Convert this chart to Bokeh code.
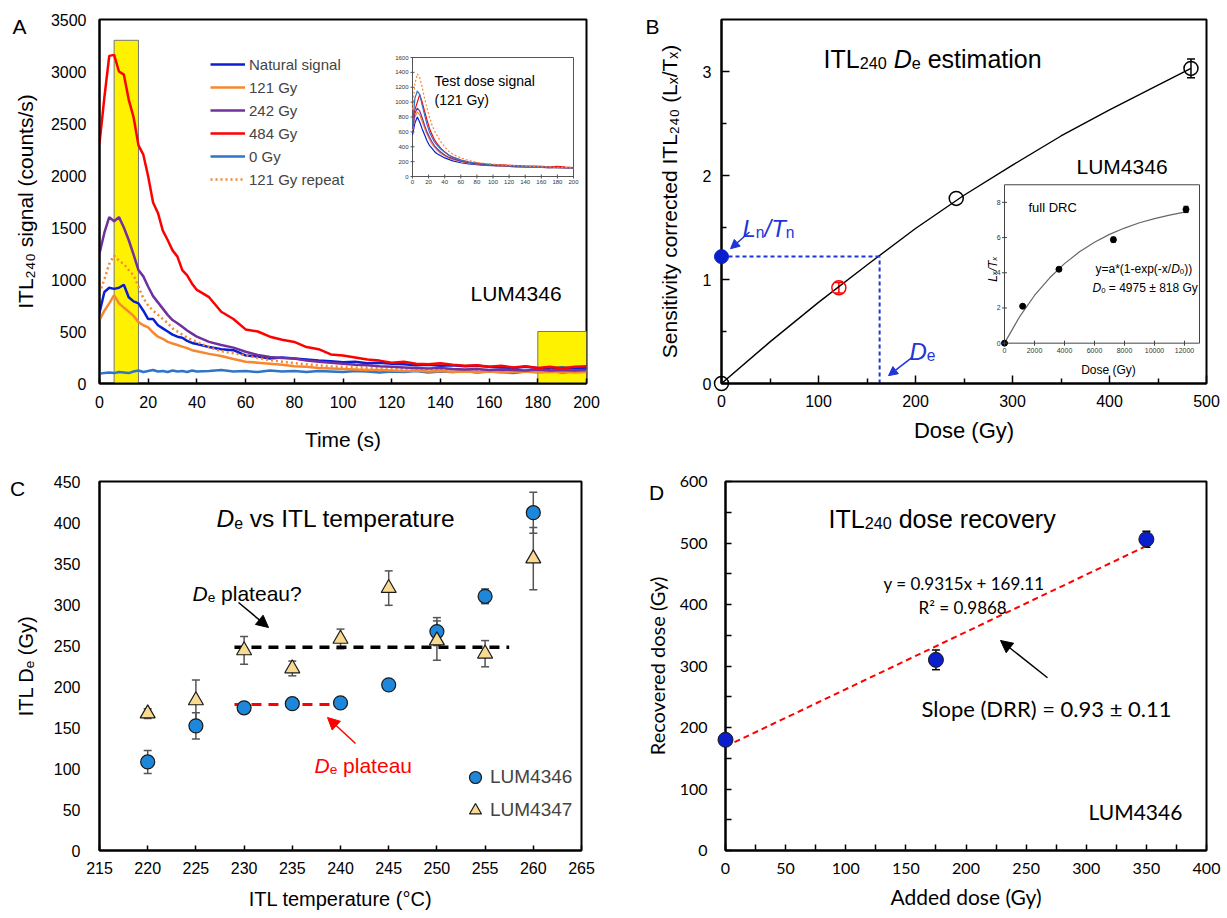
import math
from bokeh.plotting import figure
from bokeh.models import (Range1d, Label, Arrow, NormalHead, Whisker, TeeHead, ColumnDataSource,
                          Legend, LegendItem, FixedTicker)
from bokeh.layouts import column, row
from bokeh.embed import file_html
from bokeh.resources import INLINE
from bokeh.core.properties import value

ARIAL = "Liberation Sans"
CAL = "Lato"

# ---------------- Panel A data ----------------
tA = [0, 2, 4, 6, 8, 10, 12, 14, 16, 18, 20, 22, 24, 26, 28, 30, 32, 34, 36, 38, 40,
      45, 50, 55, 60, 65, 70, 75, 80, 85, 90, 95, 100, 105, 110, 115, 120, 125, 130, 135,
      140, 145, 150, 155, 160, 165, 170, 175, 180, 185, 190, 195, 200]
sig_484 = [2310, 2750, 3150, 3160, 3000, 2970, 2730, 2560, 2290, 2200, 1990, 1740, 1640, 1470, 1380,
           1280, 1220, 1090, 1040, 960, 900, 830, 690, 620, 520, 500, 450, 420, 400, 350, 330, 280,
           270, 250, 230, 220, 200, 210, 190, 185, 195, 180, 170, 175, 160, 170, 155, 165, 150, 160,
           145, 160, 165]
sig_nat = [680, 880, 920, 910, 920, 950, 830, 790, 770, 700, 620, 620, 560, 530, 500, 470, 450, 440,
           410, 390, 380, 350, 330, 320, 270, 260, 240, 250, 240, 230, 220, 215, 205, 210, 195, 200,
           190, 185, 175, 180, 170, 175, 165, 170, 160, 155, 150, 160, 150, 145, 155, 145, 150]
sig_121 = [610, 700, 770, 850, 770, 730, 690, 650, 590, 560, 540, 490, 450, 430, 400, 385, 370, 355,
           340, 320, 310, 285, 265, 235, 210, 200, 190, 180, 165, 160, 150, 145, 140, 135, 130, 130,
           125, 120, 125, 115, 120, 110, 115, 110, 115, 105, 110, 115, 105, 110, 115, 105, 110]
sig_242 = [1250, 1450, 1600, 1560, 1600, 1500, 1380, 1240, 1090, 1030, 930, 840, 780, 720, 660, 610,
           580, 545, 510, 480, 450, 400, 370, 345, 305, 275, 255, 245, 240, 220, 210, 200, 190, 180,
           175, 165, 160, 155, 150, 145, 150, 140, 135, 140, 130, 135, 130, 125, 135, 125, 130, 125, 130]
sig_121r = [870, 1000, 1150, 1230, 1180, 1150, 1090, 1040, 930, 820, 750, 700, 660, 620, 580, 530,
            500, 470, 440, 420, 400, 350, 310, 290, 270, 245, 225, 210, 195, 185, 175, 165, 160, 155,
            150, 145, 145, 140, 135, 140, 130, 135, 130, 125, 130, 125, 130, 125, 120, 130, 125, 120, 125]
sig_0 = [95, 100, 105, 100, 110, 105, 100, 115, 125, 110, 120, 130, 115, 120, 110, 125, 115, 120, 110,
         125, 115, 120, 130, 115, 120, 110, 125, 115, 120, 110, 120, 115, 110, 120, 115, 105, 115, 110,
         120, 105, 115, 110, 120, 105, 115, 110, 100, 115, 110, 120, 105, 115, 120]
win_left = [6, 180]
win_right = [16, 200]
win_top = [3300, 500]

# inset: test dose signals
tI = [0, 3, 6, 9, 12, 15, 18, 21, 24, 27, 30, 35, 40, 45, 50, 60, 70, 80, 90, 100, 110, 120, 130,
      140, 150, 160, 170, 180, 190, 200]
td_121r = [900, 1250, 1380, 1330, 1200, 1050, 920, 800, 700, 620, 560, 470, 400, 340, 300, 250, 215,
           190, 175, 165, 155, 150, 145, 140, 135, 130, 130, 125, 120, 115]
td_0 = [700, 1050, 1150, 1100, 960, 830, 700, 600, 530, 470, 430, 370, 330, 290, 260, 220, 195, 180,
        165, 155, 150, 145, 140, 135, 130, 130, 125, 120, 120, 115]
td_484 = [780, 900, 1000, 1100, 1000, 880, 760, 650, 570, 500, 450, 380, 330, 290, 260, 220, 195, 180,
          170, 160, 155, 150, 145, 140, 140, 135, 130, 135, 125, 120]
td_242 = [640, 850, 920, 880, 790, 690, 600, 530, 470, 420, 380, 330, 290, 260, 240, 205, 185, 170,
          160, 150, 145, 140, 135, 130, 130, 125, 120, 125, 120, 115]
td_121 = [620, 800, 870, 830, 740, 650, 570, 500, 440, 400, 360, 310, 280, 250, 230, 200, 180, 165,
          155, 148, 140, 135, 130, 128, 125, 122, 120, 118, 115, 112]
td_nat = [560, 720, 800, 730, 640, 560, 480, 420, 380, 340, 310, 280, 250, 230, 210, 185, 170, 160,
          150, 145, 140, 135, 130, 128, 125, 122, 120, 118, 115, 112]
insetA_xticks = [0, 20, 40, 60, 80, 100, 120, 140, 160, 180, 200]
insetA_yticks = [0, 200, 400, 600, 800, 1000, 1200, 1400, 1600]

# ---------------- Panel B data ----------------
b_dose = [0, 121, 242, 484]
b_ratio = [0.0, 0.92, 1.78, 3.03]
b_err = [0.04, 0.05, 0.03, 0.09]
b_colors = ["black", "red", "black", "black"]
fit_dose = [0, 50, 100, 150, 200, 250, 300, 350, 400, 450, 484]
fit_ratio = [0.0, 0.40, 0.78, 1.14, 1.49, 1.81, 2.10, 2.38, 2.63, 2.87, 3.03]
ln_tn = 1.22
de_val = 163
drc_dose = [0, 1210, 3630, 7260, 12100]
drc_ratio = [0.0, 2.1, 4.2, 5.88, 7.6]
drc_err = [0.0, 0.05, 0.08, 0.14, 0.18]
drc_fit_dose = [0, 1000, 2000, 3000, 4000, 5000, 6000, 7000, 8000, 9000, 10000, 11000, 12000]
drc_fit_ratio = [0.0, 1.49, 2.71, 3.70, 4.52, 5.19, 5.73, 6.18, 6.54, 6.84, 7.08, 7.28, 7.45]
insetB_xticks = [0, 2000, 4000, 6000, 8000, 10000, 12000]
insetB_yticks = [0, 2, 4, 6, 8]

# ---------------- Panel C data ----------------
temps = [220, 225, 230, 235, 240, 245, 250, 255, 260]
de_4346 = [108, 152, 174, 179, 180, 202, 267, 310, 412]
err_4346 = [14, 16, 4, 4, 5, 4, 17, 9, 25]
de_4347 = [167, 183, 244, 222, 258, 320, 256, 240, 356]
err_4347 = [6, 25, 17, 9, 12, 21, 24, 16, 38]
plateau_q_x = [229, 257.5]
plateau_q_y = [248, 248]
plateau_x = [229, 241]
plateau_y = [178, 178]

# ---------------- Panel D data ----------------
added = [0, 175, 350]
recovered = [180, 310, 506]
rec_err = [6, 16, 13]
fitD_x = [0, 350]
fitD_y = [169.11, 495.14]

# ---------------- helpers ----------------
AW = {' ': 0.278, '(': 0.333, ')': 0.333, '*': 0.389, '+': 0.584, '-': 0.333, '.': 0.278, '/': 0.278,
      '=': 0.584, '?': 0.556, '±': 0.584, '°': 0.4, 'A': 0.667, 'C': 0.722, 'D': 0.722, 'G': 0.778,
      'I': 0.278, 'L': 0.556, 'M': 0.833, 'R': 0.722, 'S': 0.667, 'T': 0.611, 'U': 0.722,
      'a': 0.556, 'c': 0.5, 'd': 0.556, 'e': 0.556, 'f': 0.278, 'g': 0.556, 'i': 0.222, 'l': 0.222,
      'm': 0.833, 'n': 0.556, 'o': 0.556, 'p': 0.556, 'r': 0.333, 's': 0.5, 't': 0.278, 'u': 0.556,
      'v': 0.5, 'x': 0.5, 'y': 0.5}


def tw(s, size):
    return sum(AW.get(c, 0.556) for c in s) * size


class Pan:
    def __init__(self, fig, xr, yr, frame):
        self.f = fig
        self.xr, self.yr = xr, yr
        self.L, self.R, self.T, self.B = frame

    def dx(self, px):
        return self.xr[0] + (px - self.L) / (self.R - self.L) * (self.xr[1] - self.xr[0])

    def dy(self, py):
        return self.yr[0] + (self.B - py) / (self.B - self.T) * (self.yr[1] - self.yr[0])


def mkfig(w, h, xr, yr, frame, canvas):
    L, R, T, B = frame
    cx, cy = canvas
    p = figure(width=w, height=h, x_range=Range1d(*xr), y_range=Range1d(*yr),
               output_backend="svg", toolbar_location=None, title=None,
               min_border_left=L - cx, min_border_right=cx + w - R,
               min_border_top=T - cy, min_border_bottom=cy + h - B)
    p.xgrid.visible = False
    p.ygrid.visible = False
    p.outline_line_color = "black"
    p.outline_line_width = 2
    p.background_fill_color = "white"
    p.border_fill_color = "white"
    return p, Pan(p, xr, yr, frame)


def axes(p, font, size, xt, xminor, yt, yminor, xstand, ystand, xin, yin, xmin_in=0, ymin_in=0):
    p.xaxis.ticker = FixedTicker(ticks=xt, minor_ticks=xminor)
    p.yaxis.ticker = FixedTicker(ticks=yt, minor_ticks=yminor)
    for ax, st, tin, mtin in ((p.xaxis[0], xstand, xin, xmin_in), (p.yaxis[0], ystand, yin, ymin_in)):
        ax.axis_line_color = "black"
        ax.axis_line_width = 2
        ax.major_label_text_font = font
        ax.major_label_text_font_size = size
        ax.major_label_text_color = "black"
        ax.major_label_standoff = st
        ax.major_tick_out = 0
        ax.major_tick_in = tin
        ax.major_tick_line_color = "black" if tin else None
        ax.major_tick_line_width = 1.5
        ax.minor_tick_out = 0
        ax.minor_tick_in = mtin
        ax.minor_tick_line_color = "black" if mtin else None
        ax.minor_tick_line_width = 1.5


def titles(p, xlabel, xsize, xstand, ylabel, ysize, ystand, font=ARIAL):
    for ax, t, s, st in ((p.xaxis[0], xlabel, xsize, xstand), (p.yaxis[0], ylabel, ysize, ystand)):
        ax.axis_label = t
        ax.axis_label_text_font = font
        ax.axis_label_text_font_size = f"{s}px"
        ax.axis_label_text_font_style = "normal"
        ax.axis_label_text_color = "black"
        ax.axis_label_standoff = st


def label(P, px, py, text, size, font=ARIAL, color="black", style="normal", align="left", angle=0.0,
          place=None):
    lab = Label(x=P.dx(px), y=P.dy(py), text=text, text_font=font,
                text_font_size=f"{size}px", text_font_style=style, text_color=color,
                text_align=align, text_baseline="alphabetic", angle=angle)
    if place:
        P.f.add_layout(lab, place)
    else:
        P.f.add_layout(lab)


SUB, SHIFT = 0.65, 0.18


def rich(P, px, py, pieces, size, color="black", font=ARIAL, align="left", vertical=False):
    ws = []
    for t, st in pieces:
        sz = size * SUB if "s" in st else size
        ws.append(tw(t, sz))
    total = sum(ws)
    pos = -total / 2 if align == "center" else 0.0
    for (t, st), w in zip(pieces, ws):
        sz = size * SUB if "s" in st else size
        sh = SHIFT * size if "s" in st else 0.0
        fs = "italic" if "i" in st else "normal"
        lead = len(t) - len(t.lstrip(" "))
        core = t.strip(" ")
        start = pos + tw(" " * lead, sz)
        if vertical:
            label(P, px + sh, py - start, core, round(sz, 1), font, color, fs, "left", math.pi / 2)
        else:
            label(P, px + start, py + sh, core, round(sz, 1), font, color, fs, "left", 0.0)
        pos += w


def arrow(P, x0, y0, x1, y1, color, width=1.5, head=9):
    P.f.add_layout(Arrow(end=NormalHead(size=head, fill_color=color, line_color=color),
                         x_start=P.dx(x0), y_start=P.dy(y0), x_end=P.dx(x1), y_end=P.dy(y1),
                         line_color=color, line_width=width))


def whisk(p, xs, ys, es, color, head=8):
    src = ColumnDataSource(dict(x=xs, upper=[y + e for y, e in zip(ys, es)],
                                lower=[y - e for y, e in zip(ys, es)]))
    p.add_layout(Whisker(source=src, base="x", upper="upper", lower="lower", line_color=color,
                         line_width=1.5, level="underlay",
                         upper_head=TeeHead(size=head, line_color=color, line_width=1.5),
                         lower_head=TeeHead(size=head, line_color=color, line_width=1.5)))


C_NAT, C_121, C_242, C_484, C_0 = "#0B1FCF", "#F7882F", "#7030A0", "#FF0000", "#2E75C8"
BLUE_TXT = "#1F35D6"

# ======================= Panel A =======================
pA, A = mkfig(614, 460, (0, 200), (0, 3500), (99, 586, 19, 383), (0, 0))
axes(pA, ARIAL, "16px", list(range(0, 201, 20)), [], list(range(0, 3501, 500)), [], 12, 13, 5, 0)
titles(pA, "Time (s)", 21, 17, "ITL₂₄₀ signal (counts/s)", 21, 11)
pA.quad(left=win_left, right=win_right, bottom=[0, 0], top=win_top, fill_color="#FFF200",
        line_color="#777777", line_width=1)
r0 = pA.line(tA, sig_0, line_color=C_0, line_width=2.5)
r121 = pA.line(tA, sig_121, line_color=C_121, line_width=2.5)
rnat = pA.line(tA, sig_nat, line_color=C_NAT, line_width=2.5)
r121r = pA.line(tA, sig_121r, line_color=C_121, line_width=2.5, line_dash="2 3")
r242 = pA.line(tA, sig_242, line_color=C_242, line_width=2.5)
r484 = pA.line(tA, sig_484, line_color=C_484, line_width=2.5)
legA = Legend(items=[LegendItem(label="Natural signal", renderers=[rnat]),
                     LegendItem(label="121 Gy", renderers=[r121]),
                     LegendItem(label="242 Gy", renderers=[r242]),
                     LegendItem(label="484 Gy", renderers=[r484]),
                     LegendItem(label="0 Gy", renderers=[r0]),
                     LegendItem(label="121 Gy repeat", renderers=[r121r])],
              location=(111, 194), border_line_color=None, background_fill_alpha=0, padding=0,
              margin=0, spacing=3, glyph_width=35, glyph_height=20, label_height=20,
              label_standoff=4, label_text_font=ARIAL, label_text_font_size="15px")
pA.add_layout(legA)

subA = pA.subplot(x_source=Range1d(0, 200), y_source=Range1d(0, 1600),
                  x_target=Range1d(A.dx(412), A.dx(573)), y_target=Range1d(A.dy(176), A.dy(57)))
subA.quad(left=[0], right=[200], bottom=[0], top=[1600], fill_color="white", line_color="#555555",
          line_width=1)
for ys, col, dash in ((td_nat, C_NAT, "solid"), (td_121, C_121, "solid"), (td_242, C_242, "solid"),
                      (td_484, C_484, "solid"), (td_0, C_0, "solid"), (td_121r, C_121, "2 2")):
    subA.line(tI, ys, line_color=col, line_width=1.2, line_dash=dash)
subA.scatter(x=insetA_xticks, y=[0] * len(insetA_xticks), marker="dash", angle=math.pi / 2, size=4,
             line_color="#555555")
subA.scatter(x=[0] * len(insetA_yticks), y=insetA_yticks, marker="dash", size=4, line_color="#555555")
subA.text(x=insetA_xticks, y=[-45] * len(insetA_xticks), text=[str(v) for v in insetA_xticks],
          text_font=value(ARIAL), text_font_size="6px", text_align="center", text_baseline="top",
          text_color="#333333")
subA.text(x=[-5] * len(insetA_yticks), y=insetA_yticks, text=[str(v) for v in insetA_yticks],
          text_font=value(ARIAL), text_font_size="6px", text_align="right", text_baseline="middle",
          text_color="#333333")
label(A, 434, 80, "Test dose signal", 14)
label(A, 434, 99, "(121 Gy)", 14)
label(A, 19, 26, "A", 21, align="center", place="right")
label(A, 470, 293, "LUM4346", 21)

# ======================= Panel B =======================
pB, B = mkfig(613, 460, (0, 500), (0, 3.5), (721, 1206, 18, 388), (614, 0))
axes(pB, ARIAL, "16px", [0, 100, 200, 300, 400, 500], [50, 150, 250, 350, 450],
     [0, 1, 2, 3], [0.5, 1.5, 2.5], 11, 10, 8, 8, 5, 5)
titles(pB, "Dose (Gy)", 22, 8, "Sensitivity corrected ITL₂₄₀ (Lₓ/Tₓ)", 21, 19)
pB.line(fit_dose, fit_ratio, line_color="black", line_width=1.4)
pB.line([0, de_val], [ln_tn, ln_tn], line_color=BLUE_TXT, line_width=2, line_dash="4 3")
pB.line([de_val, de_val], [0, ln_tn], line_color=BLUE_TXT, line_width=2, line_dash="4 3")
whisk(pB, [b_dose[0]], [b_ratio[0]], [b_err[0]], "black", head=0)
whisk(pB, [b_dose[1]], [b_ratio[1]], [b_err[1]], "red")
whisk(pB, [b_dose[3]], [b_ratio[3]], [b_err[3]], "black")
pB.scatter(b_dose, b_ratio, size=14, fill_alpha=0, line_color=b_colors, line_width=1.5, level="overlay")
pB.scatter([0], [ln_tn], size=14, fill_color="#0A1ECC", line_color="#0A1ECC", level="overlay")

subB = pB.subplot(x_source=Range1d(0, 13000), y_source=Range1d(0, 9),
                  x_target=Range1d(B.dx(1004), B.dx(1199)), y_target=Range1d(B.dy(347), B.dy(186)))
subB.quad(left=[0], right=[13000], bottom=[0], top=[9], fill_color="white", line_color="#444444",
          line_width=1)
subB.line(drc_fit_dose, drc_fit_ratio, line_color="#666666", line_width=1.2)
subB.segment(x0=drc_dose, y0=[r - e for r, e in zip(drc_ratio, drc_err)], x1=drc_dose,
             y1=[r + e for r, e in zip(drc_ratio, drc_err)], line_color="black", line_width=1)
subB.scatter(x=drc_dose, y=[r + e for r, e in zip(drc_ratio, drc_err)], marker="dash", size=5,
             line_color="black")
subB.scatter(x=drc_dose, y=[r - e for r, e in zip(drc_ratio, drc_err)], marker="dash", size=5,
             line_color="black")
subB.scatter(x=drc_dose, y=drc_ratio, size=6, fill_color="black", line_color="black")
subB.scatter(x=insetB_xticks, y=[0] * len(insetB_xticks), marker="dash", angle=math.pi / 2, size=5,
             line_color="#444444")
subB.scatter(x=[0] * len(insetB_yticks), y=insetB_yticks, marker="dash", size=5, line_color="#444444")
subB.text(x=insetB_xticks, y=[-0.3] * len(insetB_xticks), text=[str(v) for v in insetB_xticks],
          text_font=value(ARIAL), text_font_size="7px", text_align="center", text_baseline="top",
          text_color="#333333")
subB.text(x=[-250] * len(insetB_yticks), y=insetB_yticks, text=[str(v) for v in insetB_yticks],
          text_font=value(ARIAL), text_font_size="7px", text_align="right", text_baseline="middle",
          text_color="#333333")
label(B, 1028, 209, "full DRC", 13)
rich(B, 1095, 272, [("y=a*(1-exp(-x/", "n"), ("D", "i"), ("0", "s"), ("))", "n")], 12)
rich(B, 1092, 291, [("D", "i"), ("0", "s"), (" = 4975 ± 818 Gy", "n")], 12)
label(B, 1108, 374, "Dose (Gy)", 12, align="center")
rich(B, 992, 272, [("L", "i"), ("x", "is"), ("/", "i"), ("T", "i"), ("x", "is")], 12, align="center",
     vertical=True)

label(B, 652, 25, "B", 21, align="center", place="left")
rich(B, 823, 58, [("ITL", "n"), ("240", "s"), (" ", "n"), ("D", "i"), ("e", "s"), (" estimation", "n")], 25)
label(B, 1076, 167, "LUM4346", 21)
rich(B, 742, 230, [("L", "i"), ("n", "s"), ("/", "i"), ("T", "i"), ("n", "s")], 24, color=BLUE_TXT)
rich(B, 909, 355, [("D", "i"), ("e", "s")], 24, color=BLUE_TXT)
arrow(B, 749, 234, 730, 251, BLUE_TXT)
arrow(B, 911, 362, 888, 380, BLUE_TXT)

# ======================= Panel C =======================
pC, C = mkfig(614, 456, (215, 265), (0, 450), (99, 581, 481, 850), (0, 460))
axes(pC, ARIAL, "16px", list(range(215, 266, 5)), [], list(range(0, 451, 50)), [], 11, 19, 5, 0)
titles(pC, "ITL temperature (°C)", 20, 11, "ITL Dₑ (Gy)", 20, 14)
whisk(pC, temps, de_4347, err_4347, "#555555")
whisk(pC, temps, de_4346, err_4346, "#555555")
pC.line(plateau_q_x, plateau_q_y, line_color="black", line_width=3.5, line_dash="10 7")
pC.line(plateau_x, plateau_y, line_color="red", line_width=3, line_dash="10 7")
rc = pC.scatter(temps, de_4346, size=14, fill_color="#1C87DB", line_color="#1a1a1a", line_width=1.2)
rt = pC.scatter(temps, de_4347, size=15, marker="triangle", fill_color="#F8DA92", line_color="#1a1a1a",
                line_width=1.2)
legC = Legend(items=[LegendItem(label="LUM4346", renderers=[rc]),
                     LegendItem(label="LUM4347", renderers=[rt])],
              location=(361, 25), border_line_color=None, background_fill_alpha=0, padding=0,
              margin=0, spacing=3, glyph_width=30, glyph_height=30, label_height=30,
              label_standoff=0, label_text_font=ARIAL, label_text_font_size="19px")
pC.add_layout(legC)
label(C, 17, 488, "C", 21, align="center", place="right")
rich(C, 216, 518, [("D", "i"), ("e", "s"), (" vs ITL temperature", "n")], 24.5)
rich(C, 192, 593, [("D", "i"), ("e", "s"), (" plateau?", "n")], 21)
rich(C, 314, 765, [("D", "i"), ("e", "s"), (" plateau", "n")], 21, color="red")
arrow(C, 238, 602, 268, 627, "black", 1.5, 12)
arrow(C, 355, 743, 327, 717, "red", 1.5, 12)

# ======================= Panel D =======================
pD, D = mkfig(613, 456, (0, 400), (0, 600), (725, 1206, 475, 851), (614, 460))
axes(pD, CAL, "16px", list(range(0, 401, 50)), list(range(25, 400, 50)),
     list(range(0, 601, 100)), list(range(50, 600, 100)), 12, 18, 6, 6, 6, 6)
titles(pD, "Added dose (Gy)", 21, 7, "Recovered dose (Gy)", 20, 8, font=CAL)
pD.line(fitD_x, fitD_y, line_color="red", line_width=2, line_dash="6 4")
whisk(pD, added, recovered, rec_err, "black")
pD.scatter(added, recovered, size=15, fill_color="#0A1ECC", line_color="#1a1a1a", line_width=1,
           level="overlay")
label(D, 656, 486, "D", 21, align="center", place="left")
rich(D, 828, 513, [("ITL", "n"), ("240", "s"), (" dose recovery", "n")], 25)
label(D, 883, 579, "y = 0.9315x + 169.11", 17, font=CAL)
label(D, 918, 603, "R² = 0.9868", 17, font=CAL)
label(D, 921, 706, "Slope (DRR) = 0.93 ± 0.11", 22, font=CAL)
label(D, 1088, 811, "LUM4346", 21, font=CAL)
arrow(D, 1047, 675, 1000, 637, "black", 1.5, 12)

layout = column(row(pA, pB), row(pC, pD))
open("out.html", "w").write(file_html(layout, INLINE))
